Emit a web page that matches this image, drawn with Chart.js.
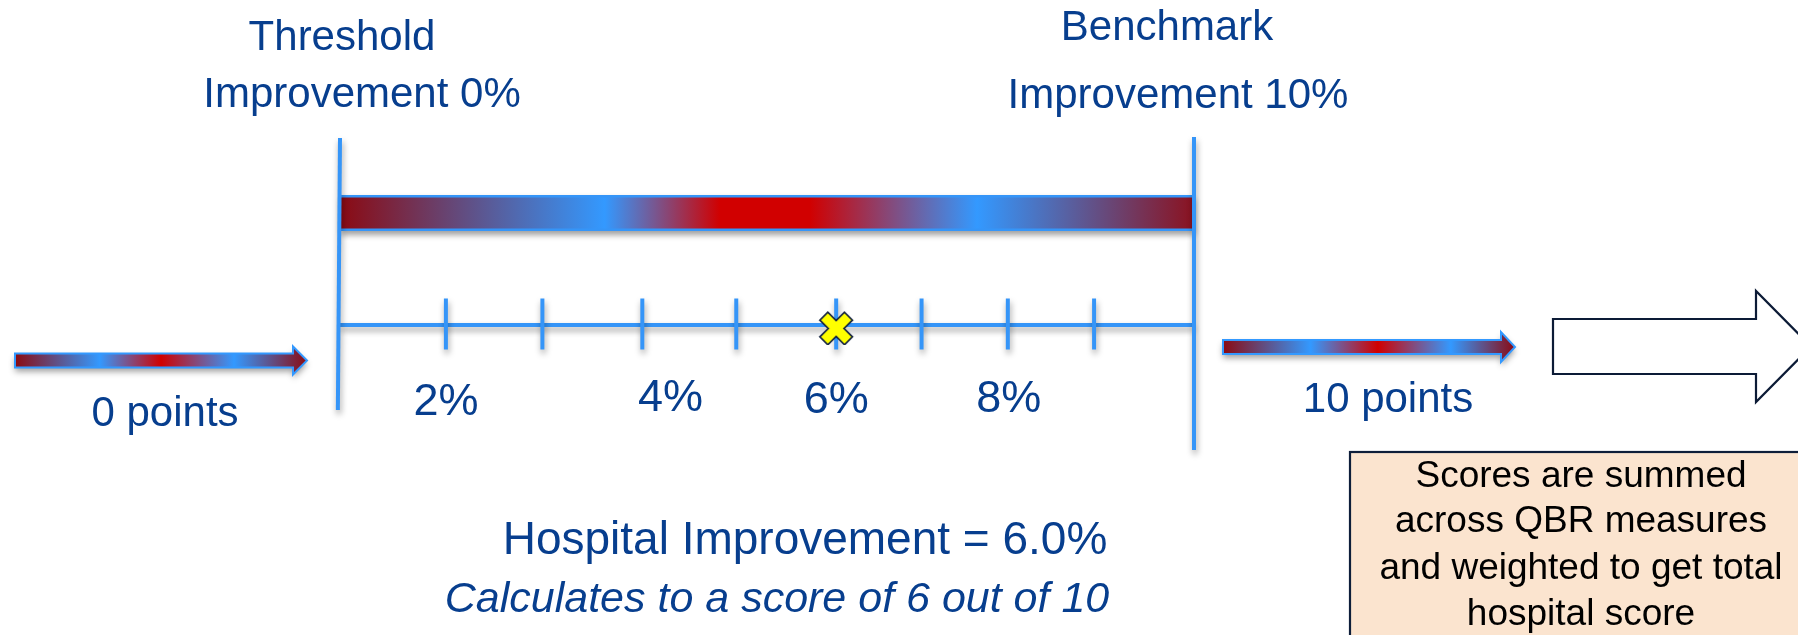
<!DOCTYPE html>
<html>
<head>
<meta charset="utf-8">
<script src="https://cdn.jsdelivr.net/npm/chart.js@4.4.1/dist/chart.umd.min.js"></script>
<style>
  html, body { margin: 0; padding: 0; background: #ffffff; overflow: hidden; }
  #wrap { width: 1798px; height: 635px; }
</style>
</head>
<body>
<div id="wrap"><canvas id="c" width="1798" height="635"></canvas></div>
<script>
// ---------- DATA ----------
const scaleEnds = [0, 10];                               // threshold / benchmark improvement (%)
const endTitles = ['Threshold', 'Benchmark'];
const endSubtitles = ['Improvement 0%', 'Improvement 10%'];
const tickPositions = [1.24, 2.37, 3.54, 4.64, 5.81, 6.81, 7.82, 8.83]; // minor ticks as drawn (%)
const tickLabels = ['2%', '4%', '6%', '8%'];
const tickLabelPositions = [1.24, 3.87, 5.81, 7.83];
const hospitalImprovement = [5.81];                      // marker position as drawn (%)
const pointsLabels = ['0 points', '10 points'];
const resultLines = ['Hospital Improvement = 6.0%', 'Calculates to a score of 6 out of 10'];
const boxLines = ['Scores are summed', 'across QBR measures', 'and weighted to get total', 'hospital score'];

// ---------- LAYOUT (pixels) ----------
const W = 1798, H = 635;
const PX0 = 340, PX10 = 1194;               // pixel of 0% and 10%
const UNIT = (PX10 - PX0) / 10;
const XMIN = -PX0 / UNIT, XMAX = 10 + (W - PX10) / UNIT;
const AXIS_ROW = 325, BAR_ROW = 213;
const BLUE = '#3595F8', NAVY = '#073E8E';
const DARKRED = '#8B0A12', RED = '#D10000', LBLUE = '#3399FF';
const FONT = '"Liberation Sans", Arial, Helvetica, sans-serif';

function barGradient(ctx, x0, x1, stops) {
  const g = ctx.createLinearGradient(x0, 0, x1, 0);
  stops.forEach(s => g.addColorStop(s[0], s[1]));
  return g;
}

// yellow X marker as canvas point style
const crossImg = (function () {
  const c = document.createElement('canvas');
  c.width = 40; c.height = 40;
  const g = c.getContext('2d');
  const a = 5.6, b = 17.4;
  const pts = [[-a,-b],[a,-b],[a,-a],[b,-a],[b,a],[a,a],[a,b],[-a,b],[-a,a],[-b,a],[-b,-a],[-a,-a]];
  const r = Math.PI / 4;
  g.translate(20, 23.5);
  g.beginPath();
  pts.forEach((p, i) => {
    const x = p[0] * Math.cos(r) - p[1] * Math.sin(r);
    const y = p[0] * Math.sin(r) + p[1] * Math.cos(r);
    if (i === 0) g.moveTo(x, y); else g.lineTo(x, y);
  });
  g.closePath();
  g.fillStyle = '#FFFF00';
  g.fill();
  g.lineWidth = 1.7;
  g.strokeStyle = '#14233F';
  g.lineJoin = 'miter';
  g.stroke();
  return c;
})();

const shadowPlugin = {
  id: 'shadows',
  beforeDatasetDraw(chart, args) {
    const ds = chart.data.datasets[args.index];
    if (ds.shadow) {
      const ctx = chart.ctx;
      ctx.save();
      ctx.shadowColor = 'rgba(0,0,0,0.38)';
      ctx.shadowBlur = 6;
      ctx.shadowOffsetX = 1;
      ctx.shadowOffsetY = 4;
    }
  },
  afterDatasetDraw(chart, args) {
    const ds = chart.data.datasets[args.index];
    if (ds.shadow) chart.ctx.restore();
  }
};

function gradArrow(ctx, x0, x1, yc, sh, hh, hl, stops) {
  ctx.save();
  ctx.beginPath();
  ctx.moveTo(x0, yc - sh);
  ctx.lineTo(x1 - hl, yc - sh);
  ctx.lineTo(x1 - hl, yc - hh);
  ctx.lineTo(x1, yc);
  ctx.lineTo(x1 - hl, yc + hh);
  ctx.lineTo(x1 - hl, yc + sh);
  ctx.lineTo(x0, yc + sh);
  ctx.closePath();
  ctx.shadowColor = 'rgba(0,0,0,0.38)';
  ctx.shadowBlur = 6;
  ctx.shadowOffsetY = 4;
  ctx.fillStyle = barGradient(ctx, x0, x1, stops);
  ctx.fill();
  ctx.shadowColor = 'transparent';
  ctx.lineWidth = 2;
  ctx.strokeStyle = LBLUE;
  ctx.lineJoin = 'miter';
  ctx.stroke();
  ctx.restore();
}

const decorPlugin = {
  id: 'decor',
  afterDraw(chart) {
    const ctx = chart.ctx;
    const xs = chart.scales.x;
    // small gradient arrows
    gradArrow(ctx, 15, 307, 360.5, 7, 14, 14,
      [[0, DARKRED], [0.29, LBLUE], [0.5, RED], [0.75, LBLUE], [1, DARKRED]]);
    gradArrow(ctx, 1223, 1515, 347, 7, 15, 14,
      [[0, DARKRED], [0.3, LBLUE], [0.53, RED], [0.78, LBLUE], [1, DARKRED]]);

    // large outline arrow
    ctx.save();
    ctx.beginPath();
    ctx.moveTo(1553, 319);
    ctx.lineTo(1756, 319);
    ctx.lineTo(1756, 291);
    ctx.lineTo(1811, 346.5);
    ctx.lineTo(1756, 402);
    ctx.lineTo(1756, 374);
    ctx.lineTo(1553, 374);
    ctx.closePath();
    ctx.fillStyle = '#ffffff';
    ctx.fill();
    ctx.lineWidth = 2.2;
    ctx.strokeStyle = '#0C1B36';
    ctx.stroke();
    ctx.restore();

    // text box
    ctx.save();
    ctx.fillStyle = '#FBE4CF';
    ctx.fillRect(1350, 452, 470, 200);
    ctx.lineWidth = 2.2;
    ctx.strokeStyle = '#0E1E3A';
    ctx.strokeRect(1350, 452, 470, 200);
    ctx.fillStyle = '#000000';
    ctx.font = '37px ' + FONT;
    ctx.textAlign = 'center';
    ctx.textBaseline = 'alphabetic';
    const boxBase = [487, 532, 579, 625];
    boxLines.forEach((t, i) => ctx.fillText(t, 1581, boxBase[i]));
    ctx.restore();

    // texts
    ctx.save();
    ctx.fillStyle = NAVY;
    ctx.textAlign = 'center';
    ctx.textBaseline = 'alphabetic';
    ctx.font = '42px ' + FONT;
    ctx.fillText(endTitles[0], 342, 50);
    ctx.fillText(endSubtitles[0], 362, 107);
    ctx.fillText(endTitles[1], 1167, 40);
    ctx.fillText(endSubtitles[1], 1178, 108);
    ctx.fillText(pointsLabels[0], 165, 426);
    ctx.fillText(pointsLabels[1], 1388, 412);

    ctx.font = '45px ' + FONT;
    const lblBase = [415, 411, 413, 412];
    tickLabels.forEach((t, i) => ctx.fillText(t, xs.getPixelForValue(tickLabelPositions[i]), lblBase[i]));

    ctx.font = '46px ' + FONT;
    ctx.fillText(resultLines[0], 805, 554);
    ctx.font = 'italic 43px ' + FONT;
    ctx.fillText(resultLines[1], 777, 612);
    ctx.restore();
  }
};

const gradStops = [[0, DARKRED], [0.31, LBLUE], [0.445, RED], [0.55, RED], [0.746, LBLUE], [1, '#8B1220']];

new Chart(document.getElementById('c'), {
  type: 'scatter',
  data: {
    datasets: [
      { // hospital marker
        data: hospitalImprovement.map(v => ({ x: v, y: AXIS_ROW })),
        pointStyle: crossImg, pointRadius: 16, order: 0
      },
      { // ticks
        data: tickPositions.map(v => ({ x: v, y: AXIS_ROW - 1 })),
        pointStyle: 'line', rotation: 90, pointRadius: 25.5,
        borderColor: BLUE, borderWidth: 4, backgroundColor: BLUE,
        shadow: true, order: 2
      },
      { // axis line
        data: scaleEnds.map(v => ({ x: v, y: AXIS_ROW })),
        showLine: true, borderColor: BLUE, borderWidth: 4, pointRadius: 0,
        borderCapStyle: 'butt', shadow: true, order: 3
      },
      { // left vertical (threshold)
        data: [{ x: scaleEnds[0], y: 138 }, { x: scaleEnds[0] - 0.025, y: 410 }],
        showLine: true, borderColor: BLUE, borderWidth: 4, pointRadius: 0,
        borderCapStyle: 'butt', shadow: true, order: 1
      },
      { // right vertical (benchmark)
        data: [{ x: scaleEnds[1], y: 137 }, { x: scaleEnds[1], y: 450 }],
        showLine: true, borderColor: BLUE, borderWidth: 4, pointRadius: 0,
        borderCapStyle: 'butt', shadow: true, order: 1
      },
      { // gradient bar fill
        data: scaleEnds.map(v => ({ x: v, y: BAR_ROW })),
        showLine: true, borderWidth: 31, pointRadius: 0, borderCapStyle: 'butt',
        borderColor: (c) => {
          const xs = c.chart.scales.x;
          if (!xs) return RED;
          const a = xs.getPixelForValue(scaleEnds[0]);
          const b = xs.getPixelForValue(scaleEnds[1]);
          if (!isFinite(a) || !isFinite(b) || a === b) return RED;
          return barGradient(c.chart.ctx, a, b, gradStops);
        },
        order: 4
      },
      { // gradient bar border
        data: scaleEnds.map(v => ({ x: v, y: BAR_ROW })),
        showLine: true, borderColor: BLUE, borderWidth: 36, pointRadius: 0,
        borderCapStyle: 'butt', shadow: true, order: 5
      }
    ]
  },
  options: {
    responsive: false,
    animation: false,
    devicePixelRatio: 1,
    layout: { padding: 0, autoPadding: false },
    plugins: { legend: { display: false }, tooltip: { enabled: false } },
    events: [],
    scales: {
      x: { type: 'linear', min: XMIN, max: XMAX, display: false },
      y: { type: 'linear', min: 0, max: H, reverse: true, display: false }
    }
  },
  plugins: [shadowPlugin, decorPlugin]
});
</script>
</body>
</html>
